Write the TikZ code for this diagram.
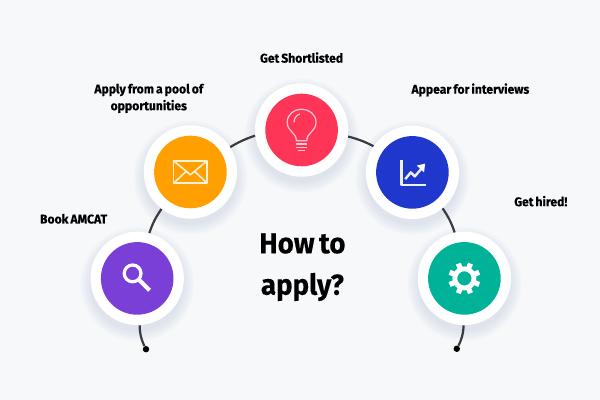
\documentclass[tikz,border=0pt]{standalone}
\usepackage{fontspec}
\setmainfont{Fira Sans}[BoldFeatures={FakeStretch=0.96,FakeBold=0.25,WordSpace=0.7}]
\usepackage{tikz}
\definecolor{pagebg}{HTML}{F6F8FA}
\definecolor{linegray}{HTML}{3A3A3F}
\definecolor{shadowblue}{HTML}{8FA3BC}
\definecolor{purplefill}{HTML}{7A3FD6}
\definecolor{orangefill}{HTML}{FF9F00}
\definecolor{redfill}{HTML}{FF3557}
\definecolor{bluefill}{HTML}{1F37CC}
\definecolor{greenfill}{HTML}{00B398}
\tikzset{
  ring/.style={circle,fill=white,minimum size=2.335cm,inner sep=0pt},
  disc/.style={circle,minimum size=1.815cm,inner sep=0pt},
  caption/.style={font=\bfseries\fontsize{9}{12}\selectfont,align=center,text=black},
  headline/.style={font=\bfseries\fontsize{20.5}{29.5}\selectfont,align=center,text=black},
  link/.style={draw=linegray,line width=0.055cm},
  icon/.style={draw=white,line width=0.05cm,line join=round},
  tip/.style={circle,fill=black,minimum size=0.16cm,inner sep=0pt}
}
\begin{document}
\begin{tikzpicture}
   \useasboundingbox (0,0) rectangle (15,10);
   \fill[pagebg] (0,0) rectangle (15,10);

   % soft shadows
   \foreach \cx/\cy in {3.43/3.04,4.76/5.70,7.54/6.75,10.31/5.69,11.61/3.04}
     \foreach \r in {1.42,1.38,1.34,1.30,1.26,1.22,1.18}
       \fill[shadowblue,opacity=0.03] (\cx,\cy-0.14) circle (\r);

   \draw (3.65,1.27) node[tip] (tipleft) {};
   \draw (11.42,1.28) node[tip] (tipright) {};
   \draw (3.43,3.04) node[ring] (ringamcat) {};
   \draw (4.76,5.70) node[ring] (ringpool) {};
   \draw (7.54,6.75) node[ring] (ringshort) {};
   \draw (10.31,5.69) node[ring] (ringinter) {};
   \draw (11.61,3.04) node[ring] (ringhired) {};

   \path[link] (ringamcat.-87) edge[bend right=12] (tipleft);
   \path[link] (ringamcat.75) edge[bend left=8] (ringpool.232);
   \path[link] (ringpool.32) edge[bend left=6] (ringshort.187);
   \path[link] (ringshort.-8) edge[bend left=6] (ringinter.146);
   \path[link] (ringinter.-50) edge[bend left=8] (ringhired.102);
   \path[link] (ringhired.-91) edge[bend left=12] (tipright);

   \draw (3.43,3.04) node[disc,fill=purplefill] (discamcat) {};
   \draw (4.76,5.70) node[disc,fill=orangefill] (discpool) {};
   \draw (7.54,6.75) node[disc,fill=redfill] (discshort) {};
   \draw (10.31,5.69) node[disc,fill=bluefill] (discinter) {};
   \draw (11.61,3.04) node[disc,fill=greenfill] (dischired) {};

   % magnifier
   \begin{scope}[shift={(discamcat.center)}]
     \draw[icon,line width=0.08cm] (-0.115,0.125) circle (0.21);
     \draw[icon,line width=0.1cm] (0.05,-0.04) -- (0.31,-0.30);
   \end{scope}
   % envelope
   \begin{scope}[shift={(discpool.center)},icon/.append style={draw=white!85!orangefill,line width=0.04cm}]
     \draw[icon] (-0.42,-0.28) rectangle (0.42,0.28);
     \draw[icon] (-0.42,0.28) -- (0,-0.07) -- (0.42,0.28);
     \draw[icon] (-0.42,-0.28) -- (-0.10,0.02);
     \draw[icon] (0.42,-0.28) -- (0.10,0.02);
   \end{scope}
   % bulb
   \begin{scope}[shift={(discshort.center)},icon/.append style={draw=white!75!redfill,line width=0.03cm}]
     \draw[icon] (-0.13,-0.27) .. controls (-0.13,-0.06) and (-0.36,-0.04) .. (-0.36,0.19)
        .. controls (-0.36,0.40) and (-0.18,0.52) .. (0,0.52)
        .. controls (0.18,0.52) and (0.36,0.40) .. (0.36,0.19)
        .. controls (0.36,-0.04) and (0.13,-0.06) .. (0.13,-0.27) -- cycle;
     \draw[icon] (-0.19,0.19) .. controls (-0.19,0.30) and (-0.12,0.38) .. (-0.04,0.40);
     \draw[icon] (-0.14,-0.35) -- (0.14,-0.35);
     \draw[icon] (-0.13,-0.43) -- (0.13,-0.43);
     \draw[icon] (-0.09,-0.51) -- (0.09,-0.51);
   \end{scope}
   % chart
   \begin{scope}[shift={(discinter.center)},icon/.append style={draw=white!92!bluefill,line width=0.06cm}]
     \draw[icon] (-0.27,0.31) -- (-0.27,-0.31) -- (0.34,-0.31);
     \draw[icon] (-0.18,-0.17) -- (-0.04,0.0) -- (0.06,-0.10) -- (0.25,0.12);
     \fill[white] (0.32,0.22) -- (0.11,0.17) -- (0.29,0.00) -- cycle;
   \end{scope}
   % gear
   \begin{scope}[shift={(dischired.center)}]
     \foreach \a in {0,45,...,315}
       \draw[white,line width=0.13cm,rotate=\a+22.5] (0.22,0) -- (0.40,0);
     \draw[white,line width=0.12cm] (0,0) circle (0.24);
   \end{scope}

   \draw (1.84,4.53) node[caption] (lblamcat) {Book AMCAT};
   \draw (3.72,7.54) node[caption] (lblpool) {Apply from a pool of\\opportunities};
   \draw (7.54,8.56) node[caption] (lblshort) {Get Shortlisted};
   \draw (11.76,7.75) node[caption] (lblinter) {Appear for interviews};
   \draw (13.52,4.97) node[caption] (lblhired) {Get hired!};
   \draw (7.56,3.32) node[headline] (lbltitle) {How to\\apply?};
\end{tikzpicture}
\end{document}
